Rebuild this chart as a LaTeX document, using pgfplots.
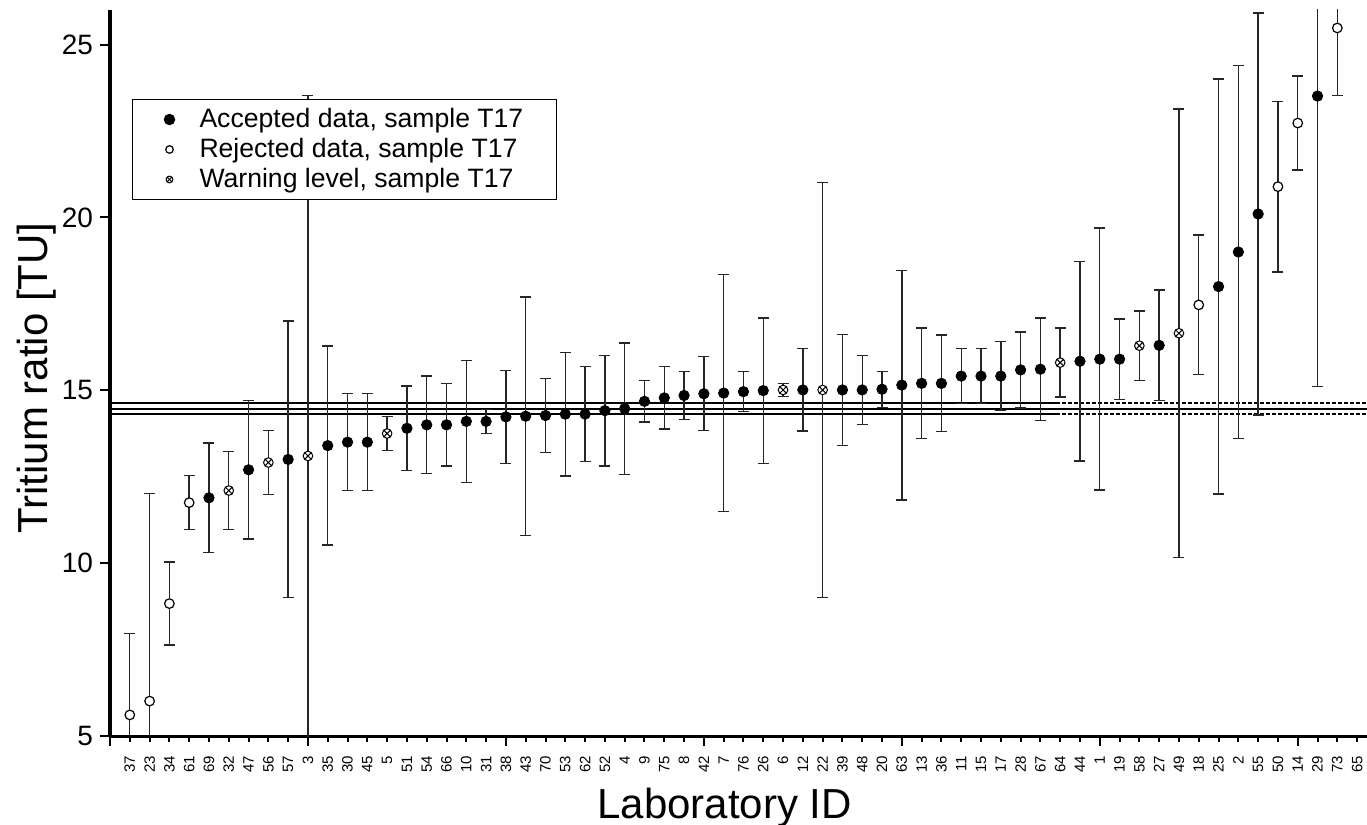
\documentclass[border=0pt]{standalone}
\usepackage{fontspec}
\setmainfont{Liberation Sans}
\usepackage{pgfplots}
\pgfplotsset{compat=1.18}
\usepackage{pgfplotstable}

\pgfplotstableread{
x y ep em
5 11.89 1.59 1.59
7 12.70 2.00 2.00
9 13.00 4.00 4.00
11 13.40 2.88 2.88
12 13.50 1.40 1.40
13 13.50 1.40 1.40
15 13.90 1.22 1.22
16 14.00 1.41 1.41
17 14.00 1.19 1.19
18 14.10 1.76 1.76
19 14.10 0.35 0.35
20 14.23 1.34 1.34
21 14.25 3.45 3.45
22 14.27 1.07 1.07
23 14.31 1.79 1.79
24 14.31 1.37 1.37
25 14.41 1.60 1.60
26 14.47 1.90 1.90
27 14.68 0.60 0.60
28 14.78 0.90 0.90
29 14.85 0.70 0.70
30 14.90 1.07 1.07
31 14.92 3.43 3.43
32 14.96 0.58 0.58
33 14.99 2.10 2.10
35 15.01 1.19 1.19
37 15.01 1.60 1.60
38 15.01 1.00 1.00
39 15.03 0.52 0.52
40 15.15 3.32 3.32
41 15.20 1.60 1.60
42 15.20 1.40 1.40
43 15.41 0.80 0.80
44 15.41 0.80 0.80
45 15.41 1.00 1.00
46 15.59 1.10 1.10
47 15.61 1.48 1.48
49 15.84 2.89 2.89
50 15.90 3.79 3.79
51 15.90 1.16 1.16
53 16.30 1.60 1.60
56 18.00 6.00 6.00
57 19.00 5.40 5.40
58 20.10 5.81 5.81
61 23.51 8.40 8.40
}\accepted

\pgfplotstableread{
x y ep em
1 5.61 2.35 2.35
2 6.01 6.00 6.00
3 8.83 1.20 1.20
4 11.75 0.78 0.78
55 17.47 2.02 2.02
59 20.89 2.47 2.47
60 22.73 1.36 1.36
62 25.48 1.96 1.96
}\rejected

\pgfplotstableread{
x y ep em
6 12.10 1.13 1.13
8 12.91 0.92 0.92
10 13.10 10.42 10.42
14 13.75 0.50 0.50
34 15.01 0.19 0.19
36 15.01 6.00 6.00
48 15.80 1.00 1.00
52 16.29 1.00 1.00
54 16.65 6.49 6.49
}\warning

\begin{document}
\begin{tikzpicture}
\begin{axis}[
  scale only axis, width=628.5pt, height=363pt,
  xmin=0, xmax=63.5, ymin=5, ymax=26,
  axis x line*=bottom, axis y line*=left,
  axis line style={line width=1.5pt},
  tick align=outside,
  every tick/.style={line width=1pt, black},
  major tick length=3pt,
  xtick={1,...,63},
  xticklabels={37,23,34,61,69,32,47,56,57,3,35,30,45,5,51,54,66,10,31,38,43,70,53,62,52,4,9,75,8,42,7,76,26,6,12,22,39,48,20,63,13,36,11,15,17,28,67,64,44,1,19,58,27,49,18,25,2,55,50,14,29,73,65},
  xticklabel style={rotate=90, anchor=east, font=\fontsize{7.5}{8}\selectfont, xshift=-3.5pt},
  extra x ticks={0,10,20,30,40,50,60},
  extra x tick labels={},
  extra x tick style={major tick length=5pt},
  ytick=\empty,
  extra y ticks={5,10,15,20,25},
  extra y tick style={major tick length=5pt},
  yticklabel style={font=\fontsize{14}{16}\selectfont},
  /pgf/number format/assume math mode=true,
  xlabel={Laboratory ID},
  ylabel={Tritium ratio [TU]},
  label style={font=\fontsize{21}{24}\selectfont},
  xlabel style={at={(axis description cs:0.489,0)}, anchor=base, yshift=-41pt},
  ylabel style={at={(axis description cs:0,0.493)}, anchor=base, yshift=31.5pt},
  legend cell align=left,
  legend style={at={(rel axis cs:0.0175,0.8774)}, anchor=north west, draw=black, line width=0.5pt,
    inner xsep=14.5pt, inner ysep=3pt, font=\fontsize{13.3}{15}\selectfont,
    nodes={inner xsep=2pt, inner ysep=1.5pt, text height=9.5pt, text depth=1.5pt},
    row sep=1pt},
  legend image code/.code={\path[draw=none,fill=none] (0pt,0pt) rectangle (17pt,0pt); \draw[#1] plot coordinates {(4pt,0pt)};},
]
\coordinate (bl) at (rel axis cs:0,0);
\coordinate (tr) at (rel axis cs:1,1);

\addplot[forget plot, line width=1pt] coordinates {(0,14.63) (47.8,14.63)};
\addplot[forget plot, line width=0.8pt, dash pattern=on 2pt off 1pt] coordinates {(47.8,14.63) (63.5,14.63)};
\addplot[forget plot, line width=1pt] coordinates {(0,14.47) (63.5,14.47)};
\addplot[forget plot, line width=1pt] coordinates {(0,14.31) (47.8,14.31)};
\addplot[forget plot, line width=0.8pt, dash pattern=on 2pt off 1pt] coordinates {(47.8,14.31) (63.5,14.31)};

\addplot[only marks, mark=*, mark size=2.6pt, mark options={fill=black, draw=black},
  error bars/.cd, y dir=both, y explicit,
  error bar style={line width=0.7pt, black!85},
  error mark options={rotate=90, line width=0.7pt, black!85, mark size=2.75pt}]
  table[x=x, y=y, y error plus=ep, y error minus=em] {\accepted};
\addlegendentry{Accepted data, sample T17}

\addplot[only marks, mark=*, mark size=2.4pt, mark options={fill=white, draw=black, line width=0.6pt},
  legend image post style={mark size=1.9pt},
  error bars/.cd, y dir=both, y explicit,
  error bar style={line width=0.7pt, black!85},
  error mark options={rotate=90, line width=0.7pt, black!85, mark size=2.75pt}]
  table[x=x, y=y, y error plus=ep, y error minus=em] {\rejected};
\addlegendentry{Rejected data, sample T17}

\addplot[only marks, mark=otimes*, mark size=2.4pt, mark options={fill=white, draw=black, line width=0.5pt},
  legend image post style={mark size=1.7pt},
  error bars/.cd, y dir=both, y explicit,
  error bar style={line width=0.7pt, black!85},
  error mark options={rotate=90, line width=0.7pt, black!85, mark size=2.75pt}]
  table[x=x, y=y, y error plus=ep, y error minus=em] {\warning};
\addlegendentry{Warning level, sample T17}
\end{axis}
\pgfresetboundingbox
\useasboundingbox ([xshift=-55pt,yshift=-44pt]bl) rectangle ([yshift=5pt]tr);
\end{tikzpicture}
\end{document}
